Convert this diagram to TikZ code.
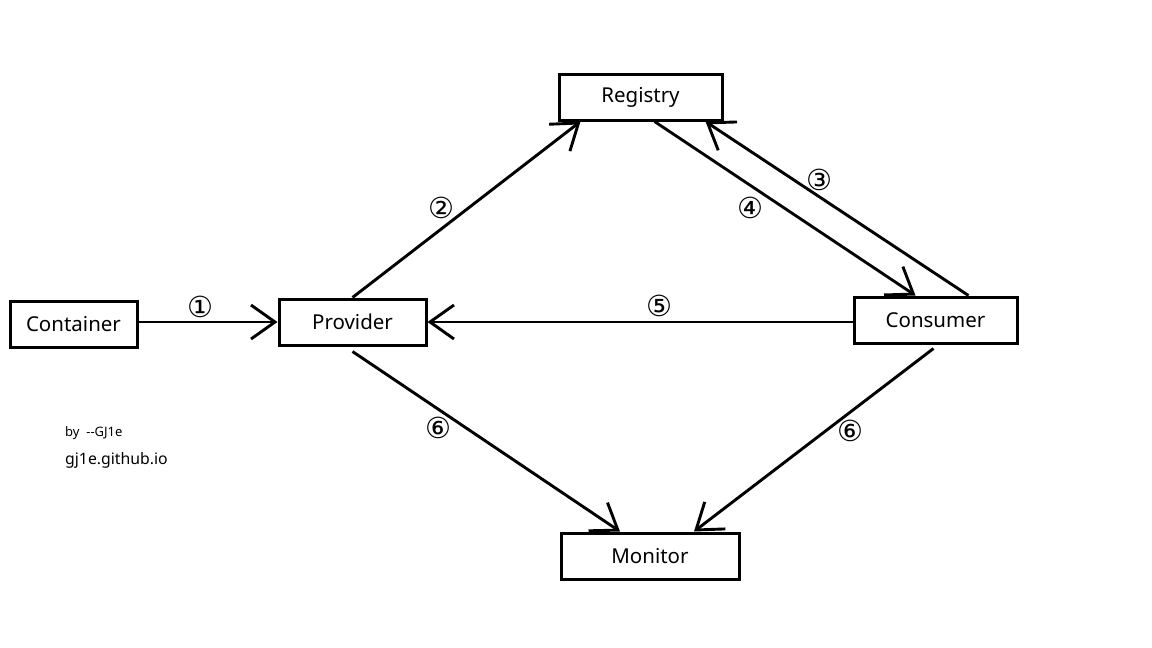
\documentclass[tikz,border=0pt]{standalone}
\usepackage{fontspec}
\setmainfont{Noto Sans}
\newfontfamily\symfont{DejaVu Sans}
\usetikzlibrary{arrows.meta}
\tikzset{
  box/.style={draw, line width=3pt, rectangle, inner sep=0pt, minimum height=46pt, font=\fontsize{20.5}{24}\selectfont},
  conn/.style={line width=2.9pt, -{Straight Barb[length=24pt,width=34pt,line width=2.9pt]}},
  num/.style={inner sep=0pt, font=\symfont\fontsize{29}{29}\selectfont},
  note/.style={inner sep=0pt, anchor=west}
}
\begin{document}
\begin{tikzpicture}[x=1pt,y=-1pt]
\fill[white] (0,0) rectangle (1152,648);
\useasboundingbox (0,0) rectangle (1152,648);
\node[box, minimum width=127pt] (cont) at (73.5,324) {Container};
\node[box, minimum width=147pt] (prov) at (352.5,322) {Provider};
\node[box, minimum width=163pt] (reg) at (640.5,97) {Registry};
\node[box, minimum width=163pt] (cons) at (935.5,320) {Consumer};
\node[box, minimum width=178pt] (mon) at (650,556) {Monitor};

\draw[conn] (cont.east |- prov.west) -- (prov.west);
\draw[conn] (prov.north) -- ([xshift=23pt]reg.south west);
\draw[conn] ([xshift=-50pt]cons.north east) -- ([xshift=-18pt]reg.south east);
\draw[conn] ([xshift=14pt]reg.south) -- ([xshift=-20pt]cons.north);
\draw[conn] (cons.west |- prov.east) -- (prov.east);
\draw[conn] ([yshift=-5pt]prov.south) -- ([xshift=-30pt]mon.north);
\draw[conn] ([xshift=-2pt,yshift=-4pt]cons.south) -- ([xshift=44pt]mon.north);

\node[num] (n1) at (200,307) {①};
\node[num] (n2) at (441,208) {②};
\node[num] (n3) at (819,180) {③};
\node[num] (n4) at (750,208) {④};
\node[num] (n5) at (659,306) {⑤};
\node[num] (n6a) at (438,428) {⑥};
\node[num] (n6b) at (850,431) {⑥};

\node[note, font=\fontsize{13}{15}\selectfont] (by) at (65,433) {by\ \ -{}-GJ1e};
\node[note, font=\fontsize{15.8}{18}\selectfont] (site) at (65,460) {gj1e.github.io};
\end{tikzpicture}
\end{document}
